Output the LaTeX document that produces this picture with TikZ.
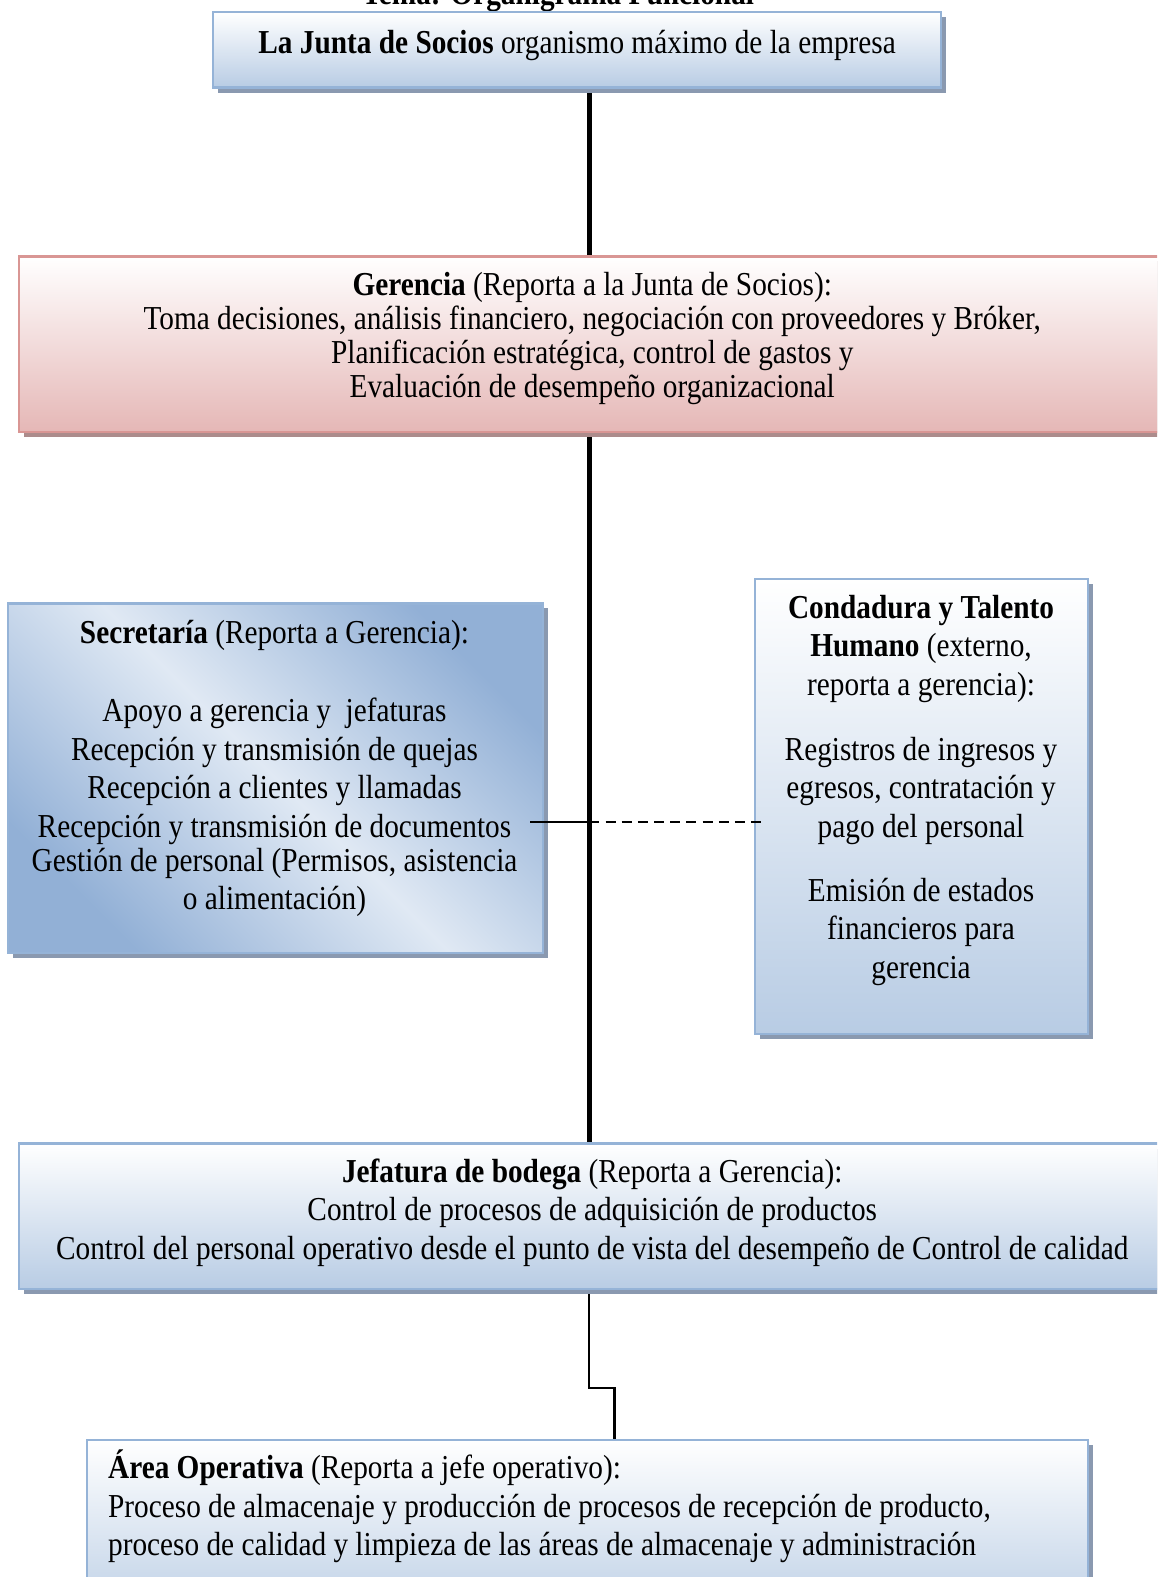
\documentclass[tikz,border=0pt]{standalone}
\usepackage{fontspec}
\setmainfont{Liberation Serif}[FakeStretch=0.875]
\usetikzlibrary{fit,shadows,backgrounds}
\definecolor{bborder}{RGB}{149,179,215}
\definecolor{bshadow}{RGB}{138,153,176}
\definecolor{bbottom}{RGB}{184,204,228}
\definecolor{bdark}{RGB}{146,176,214}
\definecolor{blight}{RGB}{224,233,244}
\definecolor{rborder}{RGB}{217,150,148}
\definecolor{rbottom}{RGB}{229,183,182}
\definecolor{rshadow}{RGB}{172,140,140}
\newcommand\topstrut{\rule{0pt}{11pt}}
\tikzset{
  boxbase/.style={inner sep=0pt, line width=0.75pt},
  bluebox/.style={boxbase, draw=bborder, top color=white, bottom color=bbottom,
    drop shadow={shadow xshift=1.8pt, shadow yshift=-1.8pt, opacity=1, fill=bshadow}},
  redbox/.style={boxbase, draw=rborder, top color=white, bottom color=rbottom,
    drop shadow={shadow xshift=1.8pt, shadow yshift=-1.8pt, opacity=1, fill=rshadow}},
  diagbox/.style={boxbase, draw=bborder, top color=bdark, bottom color=bdark, middle color=blight,
    shading angle=-45,
    drop shadow={shadow xshift=1.8pt, shadow yshift=-1.8pt, opacity=1, fill=bshadow}},
  txt/.style={inner sep=0pt, align=center, font=\fontsize{12}{13.8}\selectfont},
  txtleft/.style={inner sep=0pt, align=left, font=\fontsize{12}{13.8}\selectfont},
  trunk/.style={line width=1.8pt, black},
  thinline/.style={line width=0.8pt, black},
  dashline/.style={line width=0.7pt, black, dash pattern=on 3.6pt off 2.2pt},
}
\begin{document}
\begin{tikzpicture}[x=0.3584pt,y=-0.3584pt]
\useasboundingbox (0,0) rectangle (1157,1577);
\clip (0,0) rectangle (1157,1577);
\begin{scope}[scale=1.0055]
\node[txt, font=\fontsize{12}{13.8}\selectfont\bfseries, anchor=base] (title) at (555,4) {Tema: Organigrama Funcional};

% boxes
\node[bluebox, fit={(212,12) (936,87)}] (junta) {};
\node[redbox, fit={(19,255) (1185,430)}] (ger) {};
\node[diagbox, fit={(8,600) (540,948)}] (sec) {};
\node[bluebox, fit={(751,576) (1082,1028)}] (cond) {};
\node[bluebox, fit={(19,1137) (1185,1282)}] (jef) {};
\node[bluebox, fit={(86,1432) (1082,1620)}] (area) {};

% texts
\node[txt, anchor=base] (juntaT) at (574,53.5) {\textbf{La Junta de Socios} organismo máximo de la empresa};

\node[txt, font=\fontsize{12}{12.2}\selectfont, anchor=north] (gerT) at (589,293.5-30.7)
  {\topstrut\textbf{Gerencia} (Reporta a la Junta de Socios):\\
   Toma decisiones, análisis financiero, negociación con proveedores y Bróker,\\
   Planificación estratégica, control de gastos y\\
   Evaluación de desempeño organizacional};

\node[txt, anchor=north] (secT) at (273,639.5-30.7)
  {\topstrut\textbf{Secretaría} (Reporta a Gerencia):\\[14.2pt]
   Apoyo a gerencia y\ \ jefaturas\\
   Recepción y transmisión de quejas\\
   Recepción a clientes y llamadas\\
   Recepción y transmisión de documentos\ \ \\[-1.6pt]
   Gestión de personal (Permisos, asistencia\\
   o alimentación)};

\node[txt, anchor=north] (condT) at (916,614.5-30.7)
  {\topstrut\textbf{Condadura y Talento}\\
   \textbf{Humano} (externo,\\
   reporta a gerencia):\\[9.5pt]
   Registros de ingresos y\\
   egresos, contratación y\\
   pago del personal\\[9.1pt]
   Emisión de estados\\
   financieros para\\
   gerencia};

\node[txt, anchor=north] (jefT) at (589,1175.5-30.7)
  {\topstrut\textbf{Jefatura de bodega} (Reporta a Gerencia):\\
   Control de procesos de adquisición de productos\\
   Control del personal operativo desde el punto de vista del desempeño de Control de calidad};

\node[txtleft, anchor=north west] (areaT) at (107,1470.5-30.7)
  {\topstrut\textbf{Área Operativa} (Reporta a jefe operativo):\\
   Proceso de almacenaje y producción de procesos de recepción de producto,\\
   proceso de calidad y limpieza de las áreas de almacenaje y administración};

% connectors
\coordinate (tx) at (586,0);
\coordinate (secend) at (527,817);
\coordinate (condend) at (757,817);
\coordinate (bend1) at (586,1380);
\coordinate (bend2) at (611,1380);
\begin{scope}[on background layer]
\draw[trunk] (junta.south -| tx) -- (ger.north -| tx);
\draw[trunk] (ger.south -| tx) -- (jef.north -| tx);
\draw[thinline] (jef.south -| bend1) -- (bend1) -- (bend2) -- (area.north -| bend2);
\end{scope}
\draw[thinline] (secend) -- (secend -| tx);
\draw[dashline] (secend -| tx) -- (condend);
\end{scope}
\end{tikzpicture}
\end{document}
